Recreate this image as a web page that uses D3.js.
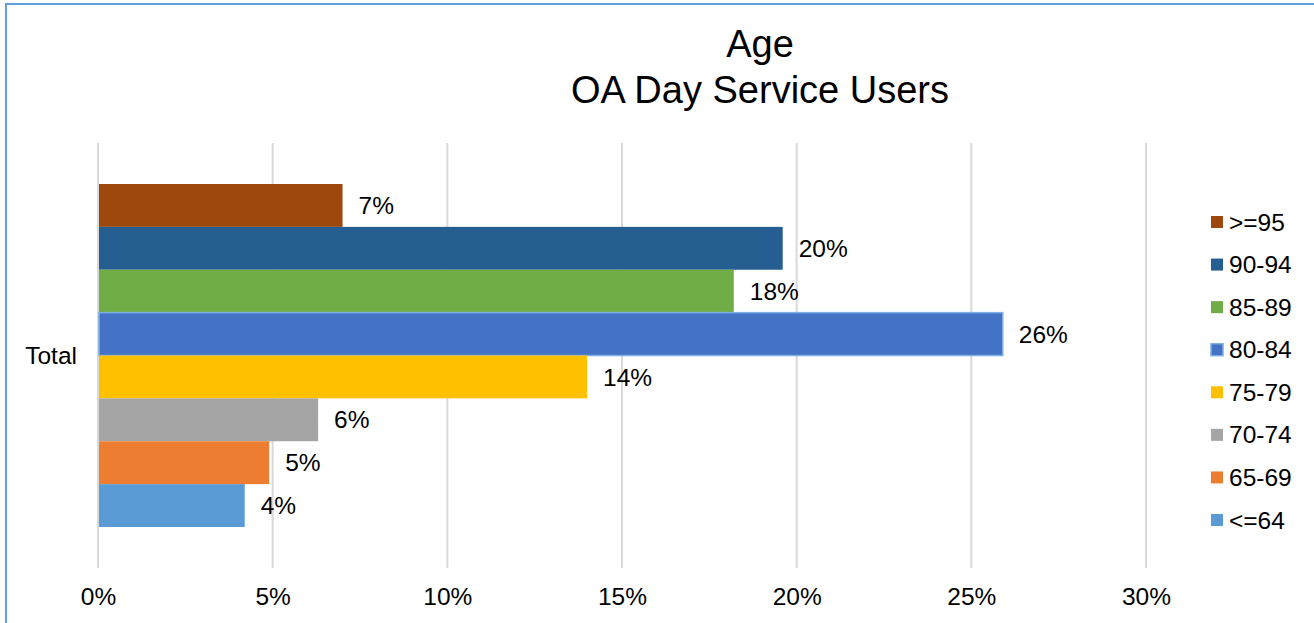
<!DOCTYPE html>
<html>
<head>
<meta charset="utf-8">
<script src="https://cdn.jsdelivr.net/npm/d3@7"></script>
<style>
  html, body { margin: 0; padding: 0; background: #fff; }
  svg { display: block; font-family: "Liberation Sans", Arial, sans-serif; }
</style>
</head>
<body>
<svg id="chart" width="1314" height="623"></svg>
<script>
// ---- data ----
const categories = ["Total"];
const seriesNames = [">=95", "90-94", "85-89", "80-84", "75-79", "70-74", "65-69", "<=64"];
const seriesValues = [7.0, 19.6, 18.2, 25.9, 14.0, 6.3, 4.9, 4.2];
const seriesLabels = ["7%", "20%", "18%", "26%", "14%", "6%", "5%", "4%"];
const seriesColors = ["#9E480E", "#255E91", "#70AD47", "#4472C4", "#FFC000", "#A5A5A5", "#ED7D31", "#5B9BD5"];
const tickValues = [0, 5, 10, 15, 20, 25, 30];
const tickLabels = ["0%", "5%", "10%", "15%", "20%", "25%", "30%"];
const titleLines = ["Age", "OA Day Service Users"];

const svg = d3.select("#chart");
const fs = 24.5;

// frame
svg.append("rect").attr("x", 6).attr("y", 4).attr("width", 1400).attr("height", 700)
  .attr("fill", "none").attr("stroke", "#62A0DC").attr("stroke-width", 2);

// title
svg.append("text").attr("x", 760).attr("y", 57).attr("text-anchor", "middle")
  .attr("font-size", 38).attr("fill", "#000").text(titleLines[0]);
svg.append("text").attr("x", 760).attr("y", 103).attr("text-anchor", "middle")
  .attr("font-size", 38).attr("fill", "#000").text(titleLines[1]);

const x = d3.scaleLinear().domain([0, 30]).range([98, 1146]);
const yOuter = d3.scaleBand().domain(categories).range([143, 568]).paddingInner(0).paddingOuter(0);
const plotTop = 143, plotBottom = 568;

// gridlines
svg.append("g").selectAll("line").data(tickValues).join("line")
  .attr("x1", d => x(d)).attr("x2", d => x(d))
  .attr("y1", plotTop).attr("y2", plotBottom)
  .attr("stroke", "#D9D9D9").attr("stroke-width", 2);

// x axis tick labels via d3 axis
const xAxis = d3.axisBottom(x).tickValues(tickValues)
  .tickFormat((d, i) => tickLabels[i]).tickSize(0).tickPadding(0);
const gx = svg.append("g").attr("transform", `translate(0,${plotBottom})`).call(xAxis);
gx.select(".domain").remove();
gx.selectAll("text").attr("font-size", fs).attr("fill", "#000")
  .attr("font-family", "Liberation Sans, Arial, sans-serif")
  .attr("dy", null).attr("y", 37);

// category label
const yAxis = d3.axisLeft(yOuter).tickSize(0).tickPadding(21);
const gy = svg.append("g").attr("transform", `translate(98,0)`).call(yAxis);
gy.select(".domain").remove();
gy.selectAll("text").attr("font-size", fs).attr("fill", "#000")
  .attr("font-family", "Liberation Sans, Arial, sans-serif").attr("dy", "0.35em");

// bars
const bandPad = 41;
const yInner = d3.scaleBand().domain(seriesNames)
  .range([yOuter("Total") + bandPad, yOuter("Total") + yOuter.bandwidth() - bandPad]).padding(0);

const data = seriesNames.map((n, i) => ({ name: n, value: seriesValues[i], label: seriesLabels[i], color: seriesColors[i] }));

svg.append("g").selectAll("rect").data(data).join("rect")
  .attr("x", x(0) + 1)
  .attr("y", d => yInner(d.name))
  .attr("width", d => x(d.value) - x(0) - 1)
  .attr("height", yInner.bandwidth())
  .attr("fill", d => d.color)
  .attr("stroke", d => d.name === "80-84" ? "#7EB0E4" : "none")
  .attr("stroke-width", d => d.name === "80-84" ? 1.5 : 0);

svg.append("g").selectAll("text").data(data).join("text")
  .attr("x", d => x(d.value) + 16)
  .attr("y", d => yInner(d.name) + yInner.bandwidth() / 2)
  .attr("dy", "0.35em")
  .attr("font-size", fs).attr("fill", "#000")
  .text(d => d.label);

// legend
const legend = svg.append("g");
const ly = d3.scalePoint().domain(seriesNames).range([222, 520]);
legend.selectAll("rect").data(data).join("rect")
  .attr("x", 1211).attr("y", d => ly(d.name) - 6)
  .attr("width", 12).attr("height", 12)
  .attr("fill", d => d.color)
  .attr("stroke", d => d.name === "80-84" ? "#7EB0E4" : "none")
  .attr("stroke-width", d => d.name === "80-84" ? 1.5 : 0);
legend.selectAll("text").data(data).join("text")
  .attr("x", 1229).attr("y", d => ly(d.name)).attr("dy", "0.35em")
  .attr("font-size", fs).attr("fill", "#000")
  .text(d => d.name);
</script>
</body>
</html>
